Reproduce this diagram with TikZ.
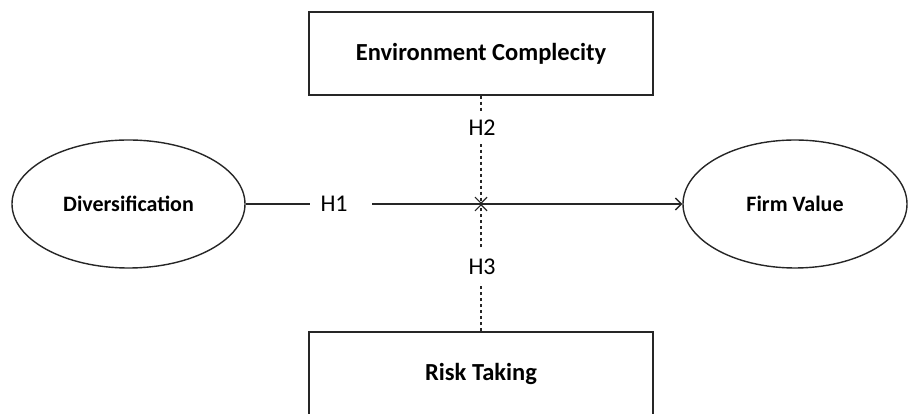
\documentclass[tikz,border=0pt]{standalone}
\usepackage{fontspec}
\setmainfont{Carlito}
\usetikzlibrary{arrows.meta,shapes.geometric}
\newcommand{\hlabtext}[1]{\makebox[62pt][l]{\hspace{10.5pt}#1}}
\begin{document}
\begin{tikzpicture}[x=1pt,y=1pt,
  boxnode/.style={draw=black!85,line width=1.4pt,minimum width=344pt,minimum height=83pt,inner sep=0pt,font=\fontsize{24.5}{28}\selectfont\bfseries},
  ellnode/.style={draw=black!85,line width=1.4pt,shape=ellipse,inner sep=0pt,font=\fontsize{22}{26}\selectfont\bfseries},
  hlabel/.style={fill=white,minimum width=62pt,minimum height=33pt,inner sep=0pt,font=\fontsize{24}{28}\selectfont},
  solidarrow/.style={line width=1.4pt,draw=black!85,-{Straight Barb[length=6pt,width=12pt,line width=1.3pt]}},
  dasharrow/.style={line width=1.2pt,draw=black!85,dash pattern=on 3.5pt off 2.5pt,-{Straight Barb[length=6pt,width=12pt,line width=1.2pt]}}
]
\useasboundingbox (0,0) rectangle (909,414);
\clip (0,0) rectangle (909,414);
\node[boxnode] (env) at (481,360.5) {Environment Complecity};
\node[boxnode] (risk) at (481,40.5) {Risk Taking};
\node[ellnode,minimum width=233pt,minimum height=128pt] (div) at (128.5,210) {Diversification};
\node[ellnode,minimum width=224pt,minimum height=128pt] (firm) at (795,210) {Firm Value};
\coordinate (cross) at (481,210);
\draw[solidarrow] (div) -- (firm);
\draw[dasharrow] (env.south) -- (cross);
\draw[dasharrow] (risk.north) -- (cross);
\node[hlabel] (h1) at (341,210.5) {\hlabtext{H1}};
\node[hlabel] (h2) at (489,286.5) {\hlabtext{H2}};
\node[hlabel] (h3) at (489,147) {\hlabtext{H3}};
\end{tikzpicture}
\end{document}
